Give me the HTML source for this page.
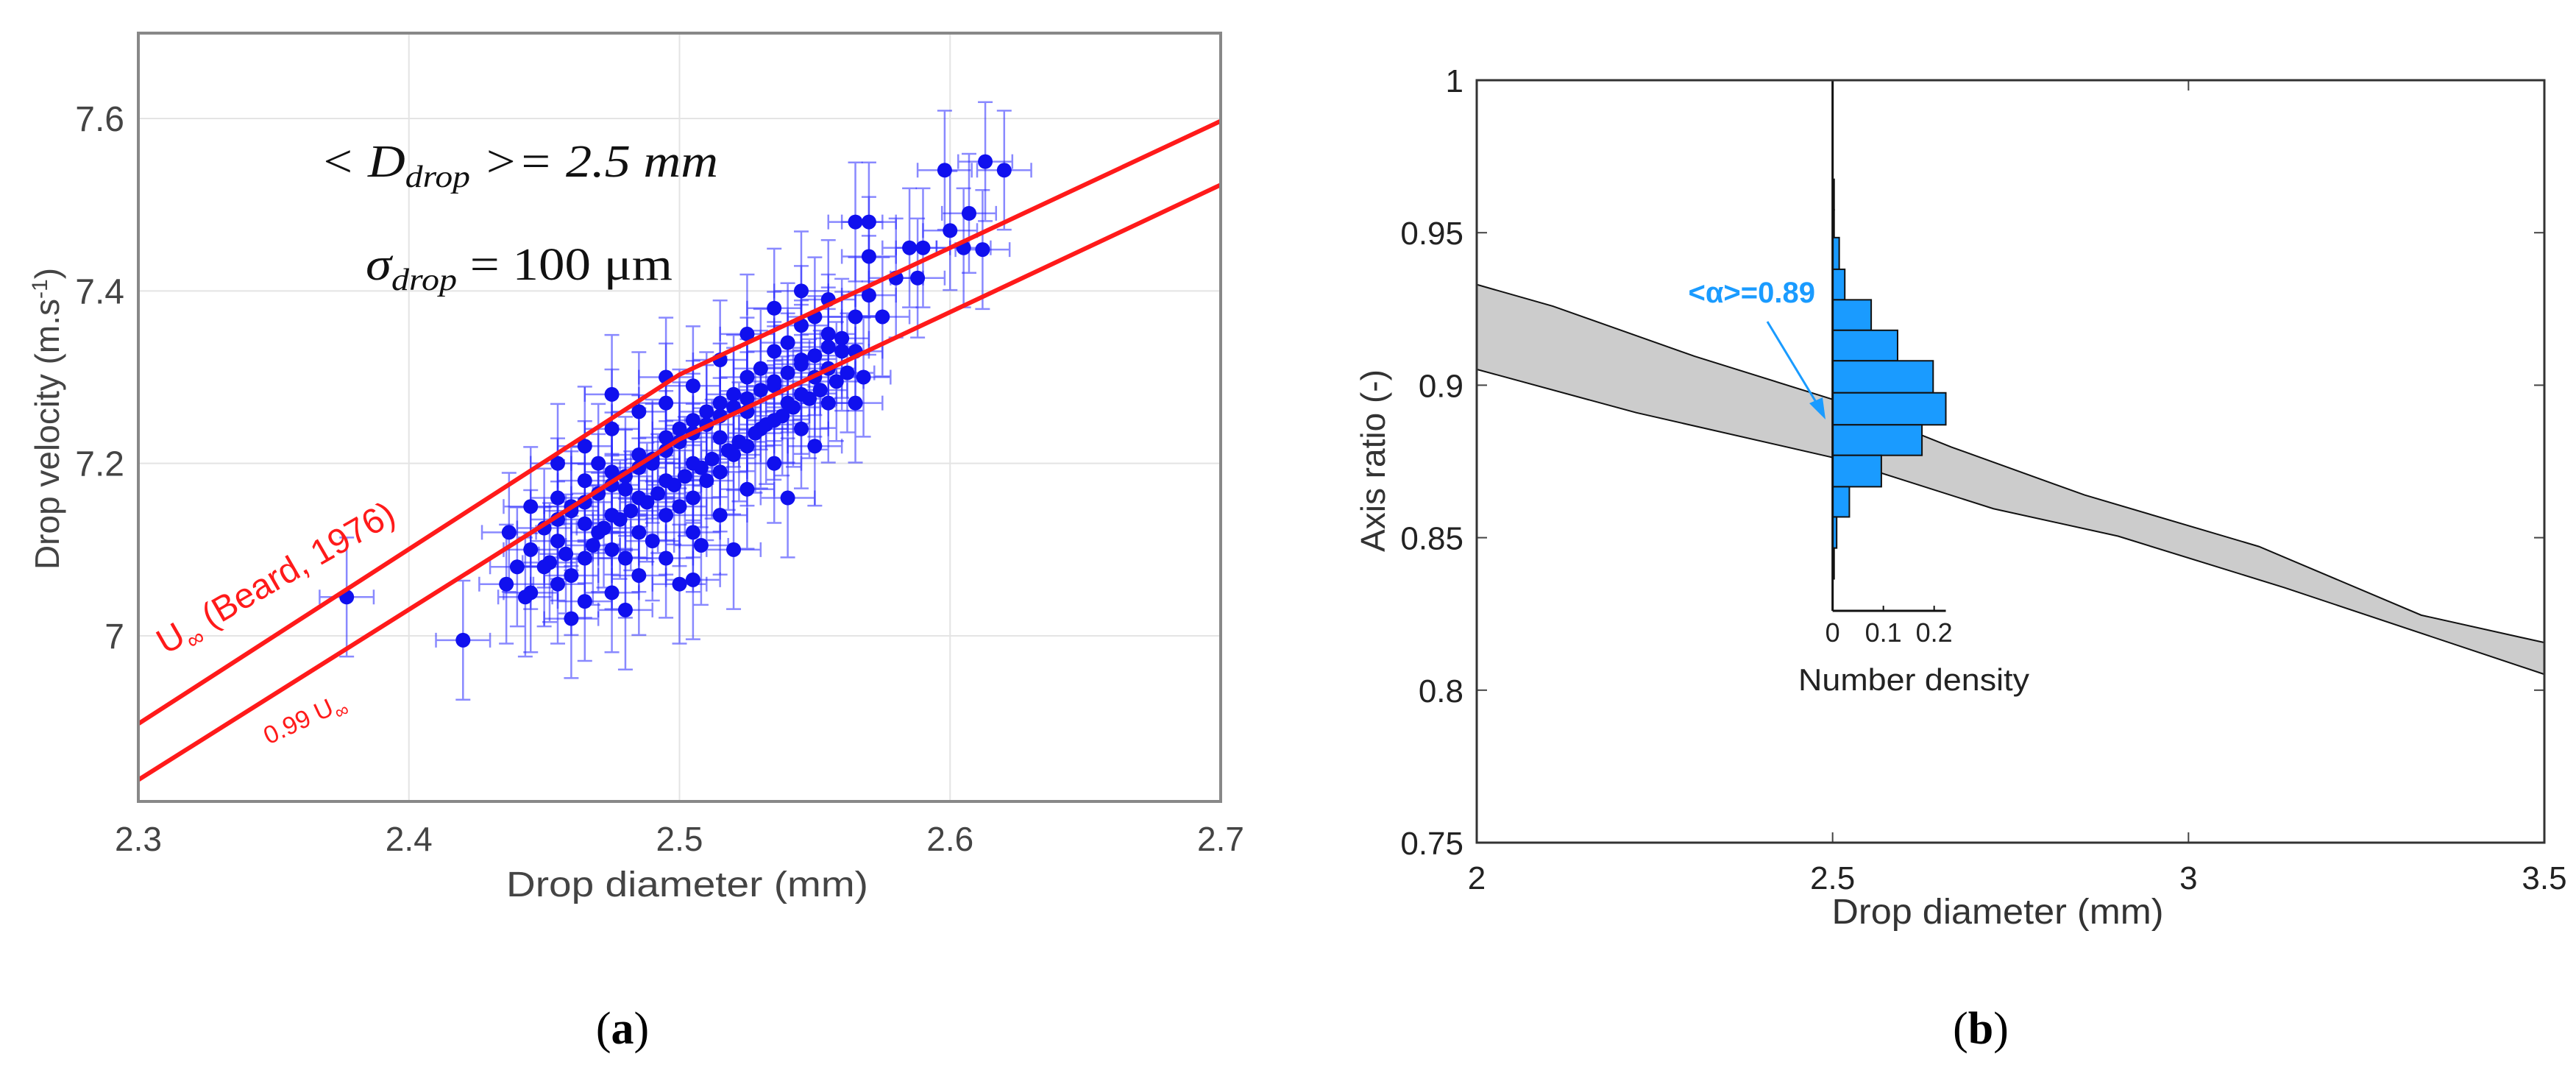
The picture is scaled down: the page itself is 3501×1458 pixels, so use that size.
<!DOCTYPE html>
<html><head><meta charset="utf-8"><style>
html,body{margin:0;padding:0;background:#fff;}
svg{display:block;font-family:"Liberation Sans","DejaVu Sans",sans-serif;}
</style></head><body>
<svg id="fig" width="3501" height="1458" viewBox="0 0 3501 1458" xmlns="http://www.w3.org/2000/svg">
<g id="pa"></g>
<g id="pb"></g>
<text x="846" y="1418" font-family="Liberation Serif,serif" font-size="62" text-anchor="middle">(<tspan font-weight="bold">a</tspan>)</text>
<text x="2692" y="1418" font-family="Liberation Serif,serif" font-size="62" text-anchor="middle">(<tspan font-weight="bold">b</tspan>)</text>
</svg>
<script>
// ---- Panel A data ----
const aXTicks=[2.3,2.4,2.5,2.6,2.7];
const aXTickLabels=["2.3","2.4","2.5","2.6","2.7"];
const aYTicks=[7.0,7.2,7.4,7.6];
const aYTickLabels=["7","7.2","7.4","7.6"];
const beardX=[2.3,2.5,2.7];
const beardU=[6.898,7.303,7.597];
const beard99U=[6.833,7.228,7.523];
const dropD=[2.377,2.420,2.437,2.436,2.440,2.443,2.505,2.508,2.550,2.565,2.568,2.570,2.565,2.570,2.575,2.580,2.585,2.588,2.590,2.598,2.600,2.605,2.607,2.612,2.613,2.620,2.570,
2.445,2.445,2.445,2.455,2.455,2.455,2.455,2.465,2.465,2.465,2.465,2.465,2.475,2.475,2.475,2.475,2.475,2.475,2.485,2.485,2.485,2.485,2.485,2.495,2.495,2.495,2.495,2.495,2.495,2.505,2.505,2.505,2.505,2.505,2.515,2.515,2.515,2.515,2.515,2.525,2.525,2.525,2.525,2.525,2.535,2.535,2.535,2.535,2.535,2.545,2.545,2.545,2.545,2.545,2.555,2.555,2.555,2.555,2.565,2.565,
2.450,2.460,2.460,2.470,2.470,2.480,2.480,2.490,2.490,2.500,2.500,2.510,2.510,2.520,2.520,2.530,2.530,2.540,2.540,2.550,2.550,2.560,2.460,2.480,2.500,2.520,2.540,
2.450,2.455,2.460,2.465,2.470,2.475,2.480,2.485,2.490,2.495,2.500,2.505,2.510,2.515,2.520,2.525,2.530,2.535,2.540,2.545,2.550,2.555,2.560,
2.452,2.458,2.468,2.472,2.478,2.482,2.488,2.492,2.498,2.502,2.508,2.512,2.518,2.522,2.528,2.532,2.538,2.542,2.548,2.552,2.558,2.562];
const dropV=[7.045,6.995,7.12,7.06,7.08,7.045,7.065,7.105,7.22,7.27,7.30,7.44,7.48,7.48,7.37,7.415,7.45,7.415,7.45,7.54,7.47,7.45,7.49,7.448,7.55,7.54,7.395,
7.05,7.10,7.15,7.06,7.11,7.16,7.20,7.04,7.09,7.13,7.18,7.22,7.05,7.10,7.14,7.19,7.24,7.28,7.07,7.12,7.16,7.21,7.26,7.09,7.14,7.18,7.23,7.27,7.30,7.12,7.16,7.20,7.25,7.29,7.14,7.19,7.23,7.27,7.32,7.17,7.22,7.26,7.30,7.35,7.20,7.25,7.29,7.33,7.38,7.24,7.28,7.32,7.36,7.40,7.27,7.31,7.35,7.39,7.33,7.37,
7.08,7.07,7.15,7.12,7.20,7.09,7.17,7.11,7.20,7.15,7.24,7.18,7.26,7.21,7.28,7.24,7.31,7.27,7.34,7.30,7.37,7.33,7.02,7.03,7.06,7.10,7.16,
7.125,7.135,7.145,7.155,7.165,7.175,7.185,7.195,7.205,7.215,7.225,7.235,7.245,7.255,7.265,7.275,7.285,7.295,7.305,7.315,7.325,7.335,7.345,
7.085,7.095,7.105,7.125,7.135,7.145,7.155,7.165,7.175,7.185,7.195,7.205,7.215,7.225,7.235,7.245,7.255,7.265,7.275,7.285,7.295,7.305];
const errV=0.069, errD=0.01;
// ---- Panel B data ----
const bXTicks=[2,2.5,3,3.5];
const bXTickLabels=["2","2.5","3","3.5"];
const bYTicks=[0.75,0.8,0.85,0.9,0.95,1];
const bYTickLabels=["0.75","0.8","0.85","0.9","0.95","1"];
const bandUpperX=[2,2.107,2.306,2.498,2.667,2.854,3.099,3.327,3.5];
const bandUpperY=[0.933,0.9259,0.9095,0.8955,0.8797,0.864,0.8471,0.8246,0.8156];
const bandLowerX=[2,2.224,2.498,2.726,2.901,3.135,3.5];
const bandLowerY=[0.9052,0.891,0.8764,0.8595,0.8505,0.8336,0.8052];
const histEdges=[0.9675,0.9575,0.9484,0.938,0.928,0.918,0.908,0.8975,0.887,0.877,0.8667,0.8568,0.8466,0.8365];
const histDensity=[0.003,0.003,0.013,0.024,0.076,0.128,0.198,0.223,0.176,0.096,0.033,0.008,0.003];
const histXTicks=[0,0.1,0.2];
const histXTickLabels=["0","0.1","0.2"];

const NS="http://www.w3.org/2000/svg";
function mk(parent,tag,attrs,text){const e=document.createElementNS(NS,tag);for(const k in attrs)e.setAttribute(k,attrs[k]);if(text!==undefined)e.textContent=text;parent.appendChild(e);return e;}

// ---- Panel A ----
const pa=document.getElementById('pa');
const aL=188,aR=1659,aT=45,aB=1089;
const ax=d=>aL+(d-2.3)/0.4*(aR-aL);
const ay=v=>864-(v-7.0)*1171.7;
aXTicks.forEach((t,i)=>{
 const g=mk(pa,'line',{x1:ax(t),x2:ax(t),y1:aT,y2:aB,stroke:'#e4e4e4','stroke-width':2});
 
 
 const l=mk(pa,'text',{x:ax(t),y:1156,'font-size':46,fill:'#444','text-anchor':'middle'},aXTickLabels[i]);
 
 
});
aYTicks.forEach((t,i)=>{
 const g=mk(pa,'line',{x1:aL,x2:aR,y1:ay(t),y2:ay(t),stroke:'#e4e4e4','stroke-width':2});
 
 
 const l=mk(pa,'text',{x:169,y:ay(t)+17,'font-size':48,fill:'#444','text-anchor':'end'},aYTickLabels[i]);
 
 
});
const eb=mk(pa,'g',{stroke:'rgba(40,40,255,0.55)','stroke-width':2.5,fill:'none'});


dropD.forEach((d,i)=>{
 const x=ax(d),y=ay(dropV[i]);
 const y1=ay(dropV[i]+errV),y2=ay(dropV[i]-errV),x1=ax(d-errD),x2=ax(d+errD);
 mk(eb,'path',{d:`M${x},${y1}V${y2}M${x-10},${y1}H${x+10}M${x-10},${y2}H${x+10}M${x1},${y}H${x2}M${x1},${y-10}V${y+10}M${x2},${y-10}V${y+10}`});
});
const pts=mk(pa,'g',{fill:'#1010ee'});


dropD.forEach((d,i)=>{
 const c=mk(pts,'circle',{cx:ax(d),cy:ay(dropV[i]),r:10});
 
 
});
const l1=mk(pa,'polyline',{points:beardX.map((x,i)=>ax(x)+','+ay(beardU[i])).join(' '),fill:'none',stroke:'#ff1a1a','stroke-width':6});


const l2=mk(pa,'polyline',{points:beardX.map((x,i)=>ax(x)+','+ay(beard99U[i])).join(' '),fill:'none',stroke:'#ff1a1a','stroke-width':6});


mk(pa,'rect',{x:aL,y:aT,width:aR-aL,height:aB-aT,fill:'none',stroke:'#888','stroke-width':4});
</script>
<script>
(function(){
const pa=document.getElementById('pa');
pa.insertAdjacentHTML('beforeend',`
<text x="80" y="569" font-size="46" fill="#444" text-anchor="middle" transform="rotate(-90 80 569)">Drop velocity (m.s<tspan font-size="30" dy="-16">-1</tspan><tspan dy="16">)</tspan></text>
<text x="934" y="1218" font-size="48" fill="#444" text-anchor="middle" textLength="492" lengthAdjust="spacingAndGlyphs">Drop diameter (mm)</text>
<text x="435" y="240" font-family="Liberation Serif,serif" font-style="italic" font-size="62" fill="#111" textLength="541" lengthAdjust="spacingAndGlyphs">&lt; D<tspan font-size="42" dy="14">drop</tspan><tspan dy="-14"> &gt;= 2.5 mm</tspan></text>
<text x="497" y="380" font-family="Liberation Serif,serif" font-size="62" fill="#111" textLength="417" lengthAdjust="spacingAndGlyphs"><tspan font-style="italic">σ</tspan><tspan font-size="42" dy="14" font-style="italic">drop</tspan><tspan dy="-14"> = 100 μm</tspan></text>
<text x="225" y="890" font-size="48" fill="#ff1a1a" transform="rotate(-30 225 890)">U<tspan font-size="32" dy="12">∞</tspan><tspan dy="-12"> (Beard, 1976)</tspan></text>
<text x="365" y="1012" font-size="34" fill="#ff1a1a" transform="rotate(-25 365 1012)">0.99 U<tspan font-size="26" dy="9">∞</tspan></text>`);
})();
(function(){
const pb=document.getElementById('pb');
const L=2007,R=3458,T=109,B=1145;
const bx=d=>L+(d-2)/1.5*(R-L);
const by=v=>B-(v-0.75)/0.25*(B-T);
bXTicks.forEach((t,i)=>{
 mk(pb,'line',{x1:bx(t),x2:bx(t),y1:B,y2:B-14,stroke:'#444','stroke-width':2});
 mk(pb,'line',{x1:bx(t),x2:bx(t),y1:T,y2:T+14,stroke:'#444','stroke-width':2});
 const l=mk(pb,'text',{x:bx(t),y:1208,'font-size':44,fill:'#222','text-anchor':'middle'},bXTickLabels[i]);
 
 
});
bYTicks.forEach((t,i)=>{
 mk(pb,'line',{x1:L,x2:L+14,y1:by(t),y2:by(t),stroke:'#444','stroke-width':2});
 mk(pb,'line',{x1:R,x2:R-14,y1:by(t),y2:by(t),stroke:'#444','stroke-width':2});
 const l=mk(pb,'text',{x:1989,y:by(t)+16,'font-size':44,fill:'#222','text-anchor':'end'},bYTickLabels[i]);
 
 
});
const up=bandUpperX.map((x,i)=>bx(x)+','+by(bandUpperY[i]));
const lo=bandLowerX.map((x,i)=>bx(x)+','+by(bandLowerY[i])).reverse();
const band=mk(pb,'polygon',{points:up.concat(lo).join(' '),fill:'#cccccc',stroke:'none'});


mk(pb,'polyline',{points:up.join(' '),fill:'none',stroke:'#111','stroke-width':2});
mk(pb,'polyline',{points:bandLowerX.map((x,i)=>bx(x)+','+by(bandLowerY[i])).join(' '),fill:'none',stroke:'#111','stroke-width':2});
const h0=bx(2.5), hx=v=>h0+v/0.2*138;
const hBot=by(0.826);
histDensity.forEach((d,i)=>{
 const y1=by(histEdges[i]),y2=by(histEdges[i+1]);
 const r=mk(pb,'rect',{x:h0,y:y1,width:hx(d)-h0,height:y2-y1,fill:'#1a9bff',stroke:'#111','stroke-width':2});
 
 
});
mk(pb,'line',{x1:h0,x2:h0,y1:T,y2:hBot,stroke:'#111','stroke-width':3});
mk(pb,'line',{x1:h0,x2:hx(0.223),y1:hBot,y2:hBot,stroke:'#111','stroke-width':3});
histXTicks.forEach((t,i)=>{
 mk(pb,'line',{x1:hx(t),x2:hx(t),y1:hBot,y2:hBot-7,stroke:'#111','stroke-width':2});
 const l=mk(pb,'text',{x:hx(t),y:872,'font-size':36,fill:'#222','text-anchor':'middle'},histXTickLabels[i]);
 
 
});
pb.insertAdjacentHTML('beforeend',`
<rect x="${L}" y="${T}" width="${R-L}" height="${B-T}" fill="none" stroke="#333" stroke-width="3"/>
<text x="2601" y="938" font-size="42" fill="#222" text-anchor="middle" textLength="314" lengthAdjust="spacingAndGlyphs">Number density</text>
<text x="1882" y="626" font-size="46" fill="#333" text-anchor="middle" transform="rotate(-90 1882 626)">Axis ratio (-)</text>
<text x="2715" y="1255" font-size="48" fill="#333" text-anchor="middle" textLength="451" lengthAdjust="spacingAndGlyphs">Drop diameter (mm)</text>
<text x="2467" y="411" font-size="40" font-weight="bold" fill="#1a9bff" text-anchor="end">&lt;α&gt;=0.89</text>
<line x1="2402" y1="437" x2="2474" y2="556" stroke="#1a9bff" stroke-width="3"/>
<polygon points="2481,570 2459,548 2477,540" fill="#1a9bff"/>`);
})();
</script>
</body></html>
